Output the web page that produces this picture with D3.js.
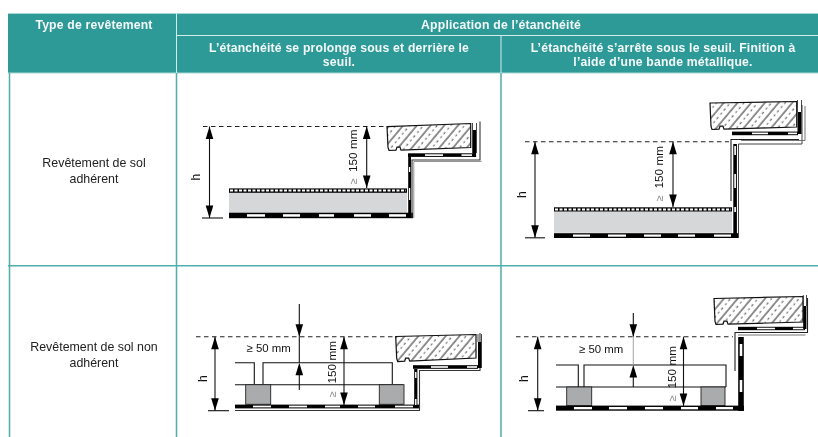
<!DOCTYPE html>
<html>
<head>
<meta charset="utf-8">
<script src="https://cdn.jsdelivr.net/npm/d3@7"></script>
<style>
  body { margin: 0; background: #fff; }
  svg { display: block; filter: blur(0.45px); }
  text { font-family: "Liberation Sans", Arial, sans-serif; }
</style>
</head>
<body>
<div id="chart"></div>
<script>
(function () {
    'use strict';

    // table texts
    var typeHeader = "Type de revêtement";
    var applicationHeader = "Application de l’étanchéité";
    var subHeaders = [
        ["L’étanchéité se prolonge sous et derrière le", "seuil."],
        ["L’étanchéité s’arrête sous le seuil. Finition à", "l’aide d’une bande métallique."]
    ];
    var rowLabels = [
        ["Revêtement de sol", "adhérent"],
        ["Revêtement de sol non", "adhérent"]
    ];

    // dimension labels
    var heightLabel = "h";
    var geSign = "≥";
    var upstandLabel = "150 mm";
    var gapLabel = "≥ 50 mm";

    var w = 818, h = 437;
    var teal = "#2e9a98", tealLine = "#4fadab", headLine = "#a9d8d6";
    var ink = "#111";

    var svg = d3.select("#chart").append("svg")
        .attr("width", w)
        .attr("height", h);

    var defs = svg.append("defs");
    var hatch = defs.append("pattern")
        .attr("id", "stone")
        .attr("patternUnits", "userSpaceOnUse")
        .attr("width", 10.5)
        .attr("height", 11)
        .attr("patternTransform", "rotate(40)");
    hatch.append("line").attr("x1", 1).attr("x2", 1).attr("y1", 0).attr("y2", 11)
        .attr("stroke", "#222").attr("stroke-width", 1);
    hatch.append("line").attr("x1", 6).attr("x2", 6).attr("y1", 2).attr("y2", 4.5)
        .attr("stroke", "#555").attr("stroke-width", 1.1);
    hatch.append("line").attr("x1", 6).attr("x2", 6).attr("y1", 7.5).attr("y2", 9.5)
        .attr("stroke", "#555").attr("stroke-width", 1.1);

    var lineGen = d3.line();

    // ---- table frame
    var grid = svg.append("g");
    grid.append("rect").attr("x", 8).attr("y", 13.5).attr("width", w - 8).attr("height", 59.5).attr("fill", teal);
    grid.append("line").attr("x1", 8).attr("x2", w).attr("y1", 13.5).attr("y2", 13.5).attr("stroke", headLine);
    grid.append("line").attr("x1", 177).attr("x2", w).attr("y1", 35.5).attr("y2", 35.5).attr("stroke", "#d4ecea");
    grid.append("line").attr("x1", 8).attr("x2", w).attr("y1", 73).attr("y2", 73).attr("stroke", headLine);
    grid.append("line").attr("x1", 176.5).attr("x2", 176.5).attr("y1", 13.5).attr("y2", 73).attr("stroke", "#d4ecea");
    grid.append("line").attr("x1", 501).attr("x2", 501).attr("y1", 35.5).attr("y2", 73).attr("stroke", "#d4ecea");
    [9.5, 176.5, 501].forEach(function (x) {
        grid.append("line").attr("x1", x).attr("x2", x).attr("y1", 73).attr("y2", h)
            .attr("stroke", tealLine).attr("stroke-width", 1.5);
    });
    grid.append("line").attr("x1", 8).attr("x2", w).attr("y1", 265.8).attr("y2", 265.8)
        .attr("stroke", tealLine).attr("stroke-width", 1.5);

    // ---- table texts
    function headText(str, x, y) {
        svg.append("text").attr("x", x).attr("y", y)
            .attr("text-anchor", "middle")
            .attr("font-size", 12.2)
            .attr("font-weight", "bold")
            .attr("letter-spacing", 0.2)
            .attr("fill", "#f4faf9")
            .text(str);
    }
    headText(typeHeader, 94, 29);
    headText(applicationHeader, 501, 29);
    subHeaders.forEach(function (lines, i) {
        lines.forEach(function (s, j) {
            headText(s, [339, 663][i], 52 + j * 14);
        });
    });
    rowLabels.forEach(function (lines, i) {
        lines.forEach(function (s, j) {
            svg.append("text").attr("x", 94).attr("y", [167, 351][i] + j * 15.5)
                .attr("text-anchor", "middle")
                .attr("font-size", 12.4)
                .attr("fill", "#222")
                .text(s);
        });
    });

    // ---- drawing helpers
    function line(g, pts, width, color, dash) {
        g.append("path").attr("d", lineGen(pts)).attr("fill", "none")
            .attr("stroke", color || ink)
            .attr("stroke-width", width || 1.1)
            .attr("stroke-dasharray", dash || null);
    }
    function box(g, x, y, wd, ht, fill, stroke) {
        g.append("rect").attr("x", x).attr("y", y).attr("width", wd).attr("height", ht)
            .attr("fill", fill)
            .attr("stroke", stroke || "none")
            .attr("stroke-width", stroke ? 0.9 : 0);
    }
    // arrow head at the given end of a vertical line
    function arrowHead(g, x, y, dir) {
        g.append("path")
            .attr("d", lineGen([[x, y], [x - 3.8, y - dir * 12.5], [x + 3.8, y - dir * 12.5]]) + "Z")
            .attr("fill", "#000");
    }
    function vArrow(g, x, y0, y1) {
        line(g, [[x, y0], [x, y1]], 1.1, "#111");
        arrowHead(g, x, y0, -1);
        arrowHead(g, x, y1, 1);
    }
    function rotatedText(g, str, x, y, size, color, anchor) {
        g.append("text")
            .attr("transform", "translate(" + x + "," + y + ") rotate(-90)")
            .attr("text-anchor", anchor || "start")
            .attr("font-size", size)
            .attr("fill", color)
            .text(str);
    }
    function hBand(g, x0, x1, y, ht, dashes) {
        box(g, x0, y, x1 - x0, ht, "#000");
        dashes.forEach(function (d) {
            box(g, d[0], y + ht * 0.27, d[1] - d[0], ht * 0.46, "#fff");
        });
    }
    function vBand(g, x, wd, y0, y1, dashes) {
        box(g, x, y0, wd, y1 - y0, "#000");
        dashes.forEach(function (d) {
            box(g, x + wd * 0.27, d[0], wd * 0.46, d[1] - d[0], "#fff");
        });
    }
    function stone(g, pts) {
        g.append("path").attr("d", lineGen(pts) + "Z")
            .attr("fill", "#fff").attr("stroke", "none");
        g.append("path").attr("d", lineGen(pts) + "Z")
            .attr("fill", "url(#stone)").attr("stroke", "#111").attr("stroke-width", 1.2);
    }
    // sill outline from its four corners with the small drip notch underneath
    function sill(g, xl, xr, yTopL, yTopR, yBotL, yBotR) {
        var nx = xl + 10;
        var ny = yBotL - (yBotL - yBotR) * (10 / (xr - xl));
        stone(g, [[xl, yTopL], [xr, yTopR], [xr, yBotR], [nx + 4, ny], [nx + 3, ny - 3], [nx, ny - 3], [nx - 1, ny], [xl + 2, yBotL], [xl + 1, yBotL - 3]]);
    }
    function finishStrip(g, x0, x1, y, ht) {
        box(g, x0, y, x1 - x0, ht, "#000");
        line(g, [[x0 + 1, y + ht / 2], [x1 - 1, y + ht / 2]], 2, "#fff", "3 1.5");
    }
    function hDimension(g, x, y0, y1, tick, labelX) {
        vArrow(g, x, y0, y1);
        line(g, [[tick[0], y1], [tick[1], y1]], 1.1, "#111");
        rotatedText(g, heightLabel, labelX, (y0 + y1) / 2 + 5, 12, "#111", "middle");
    }

    // ---- detail 1 : membrane runs up behind the sill, adhered floor
    var d1 = svg.append("g");
    line(d1, [[203, 126.5], [388, 126.5]], 1.1, "#222", "4.5 3.5");
    hDimension(d1, 209.5, 126.5, 218, [202, 223], 199.5);
    box(d1, 229, 192.7, 178, 20, "#d5d7d9");
    finishStrip(d1, 229, 407, 188.4, 4.4);
    hBand(d1, 229, 413, 212.7, 5.5, [[247, 265], [283, 300], [319, 334], [354, 371], [389, 406]]);
    vBand(d1, 408.2, 2.8, 156, 214, [[167, 172], [188, 200]]);
    line(d1, [[412, 218], [412, 160], [480, 160], [480, 121.5]], 1.1, "#333");
    line(d1, [[413.8, 218], [413.8, 161.5], [481.5, 161.5]], 0.9, "#888");
    sill(d1, 387, 470.7, 126.7, 123.5, 150.5, 147.5);
    hBand(d1, 408, 473, 153.3, 3.6, [[425, 443], [461.5, 472]]);
    vBand(d1, 472.7, 3.4, 130, 157, []);
    line(d1, [[472.5, 123], [472.5, 153]], 0.9, "#333");
    line(d1, [[476.5, 123], [476.5, 153]], 0.9, "#333");
    vArrow(d1, 366.7, 126.5, 188);
    rotatedText(d1, upstandLabel, 357, 172, 11.8, "#111");
    rotatedText(d1, geSign, 357, 184, 10.5, "#888");

    // ---- detail 2 : membrane stops under the sill, metal flashing
    var d2 = svg.append("g");
    line(d2, [[525, 141.7], [729, 141.7]], 1.1, "#222", "4.5 3.5");
    hDimension(d2, 535, 141.7, 237.8, [525, 545], 526);
    box(d2, 554, 211.3, 178, 21.5, "#d5d7d9");
    finishStrip(d2, 554, 732, 207.3, 4.2);
    hBand(d2, 554, 738, 233.2, 4.8, [[573, 590], [608, 626], [644, 661], [678, 695], [714, 731]]);
    vBand(d2, 733.3, 3.6, 144, 236, [[146, 155], [174, 188], [207, 212]]);
    line(d2, [[738.5, 238], [738.5, 144], [802, 144], [802, 105]], 1, "#444");
    line(d2, [[731, 201], [731, 139.5], [799, 139.5]], 1.1, "#222");
    sill(d2, 710, 796.7, 103, 101.5, 129.5, 127);
    hBand(d2, 732, 798, 131.6, 3.6, [[752, 768], [788, 797]]);
    vBand(d2, 797.5, 4, 112, 134, []);
    line(d2, [[797.5, 100], [797.5, 112]], 0.9, "#333");
    line(d2, [[801.5, 100], [801.5, 112]], 0.9, "#333");
    line(d2, [[805, 106], [805, 140.5], [741, 140.5]], 0.9, "#666");
    vArrow(d2, 673, 141.7, 207);
    rotatedText(d2, upstandLabel, 663, 188.5, 11.8, "#111");
    rotatedText(d2, geSign, 663, 201, 10.5, "#888");

    // slab on pads, shared by the two lower details
    function slab(g, o) {
        line(g, [[o.left, o.top], [o.gapL, o.top], [o.gapL, o.bot]], 1.1, "#111");
        line(g, [[o.gapR, o.bot], [o.gapR, o.top], [o.right, o.top], [o.right, o.bot]], 1.1, "#111");
        line(g, [[o.left, o.bot], [o.end, o.bot]], 1.1, "#111");
        o.pads.forEach(function (p) {
            box(g, p[0], o.bot, p[1] - p[0], o.base - o.bot, "#a9abad", "#222");
        });
    }
    function gapDimension(g, x, top, yLevel, yBot, yTo, color) {
        line(g, [[x, top], [x, yLevel]], 1.1, "#111");
        arrowHead(g, x, yLevel, 1);
        line(g, [[x, yLevel], [x, yTo]], 1.1, color);
        arrowHead(g, x, yTo, -1);
        line(g, [[x, yTo + 12], [x, yBot]], 1.1, "#111");
    }

    // ---- detail 3 : loose floor, membrane behind the sill
    var d3g = svg.append("g");
    line(d3g, [[196, 336.7], [395, 336.7]], 1.1, "#222", "4.5 3.5");
    hDimension(d3g, 215, 336.7, 410.7, [208, 229], 206.5);
    slab(d3g, { left: 235, gapL: 254.3, gapR: 263, right: 392.3, end: 403.5, top: 362.7, bot: 384.7, base: 404.3, pads: [[245.7, 270.7], [379.3, 404]] });
    gapDimension(d3g, 299.3, 304, 336.7, 390, 362.7, "#111");
    d3g.append("text").attr("x", 246.5).attr("y", 352).attr("font-size", 11.4).attr("fill", "#111").text(gapLabel);
    hBand(d3g, 235, 420, 404.6, 3.8, [[253, 271], [289, 307], [325, 340], [358, 375], [395, 413]]);
    line(d3g, [[235, 410.5], [420, 410.5]], 1.1, "#333");
    vBand(d3g, 414.2, 3.2, 369, 406, [[372, 378], [399, 405]]);
    line(d3g, [[419.5, 410.5], [419.5, 370.5], [480, 370.5], [480, 333]], 1.1, "#333");
    sill(d3g, 395.7, 476, 336.5, 334.5, 361.5, 358);
    hBand(d3g, 413, 478, 365.2, 3.6, [[431, 448], [467, 477]]);
    vBand(d3g, 478, 3.4, 342, 368, []);
    line(d3g, [[478, 334], [478, 342]], 0.9, "#333");
    line(d3g, [[481.5, 334], [481.5, 368]], 0.9, "#333");
    vArrow(d3g, 344, 336.7, 405);
    rotatedText(d3g, upstandLabel, 336, 383.5, 11.8, "#111");
    rotatedText(d3g, geSign, 336, 397, 10.5, "#888");

    // ---- detail 4 : loose floor, flashing
    var d4 = svg.append("g");
    line(d4, [[516, 336.7], [733, 336.7]], 1.1, "#222", "4.5 3.5");
    hDimension(d4, 537.7, 336.7, 410.7, [528, 544], 528);
    slab(d4, { left: 556, gapL: 578.3, gapR: 584, right: 726, end: 726, top: 365, bot: 387, base: 405.6, pads: [[566.7, 591.7], [701, 725]] });
    gapDimension(d4, 633.3, 313, 336.7, 387, 365, "#aaa");
    d4.append("text").attr("x", 579).attr("y", 353).attr("font-size", 11.4).attr("fill", "#111").text(gapLabel);
    hBand(d4, 556, 744, 405.6, 5.1, [[574, 592], [609, 627], [645, 663], [681, 698], [716, 733]]);
    vBand(d4, 738.2, 5.6, 337, 411, [[344, 356], [380, 392]]);
    line(d4, [[735, 371], [735, 332.5], [807.5, 332.5], [807.5, 298]], 1.1, "#222");
    line(d4, [[738, 335], [805.5, 335]], 0.9, "#666");
    sill(d4, 714, 803, 298.5, 296.5, 324.5, 322);
    hBand(d4, 738, 805, 326.8, 3.4, [[757, 775], [793, 804]]);
    vBand(d4, 803.2, 3.2, 306, 329, []);
    line(d4, [[803.3, 295], [803.3, 306]], 0.9, "#333");
    line(d4, [[806.5, 295], [806.5, 306]], 0.9, "#333");
    vArrow(d4, 683.5, 336.7, 406);
    rotatedText(d4, upstandLabel, 676, 388.5, 11.8, "#111");
    rotatedText(d4, geSign, 676, 401, 10.5, "#888");
}());
</script>
</body>
</html>
